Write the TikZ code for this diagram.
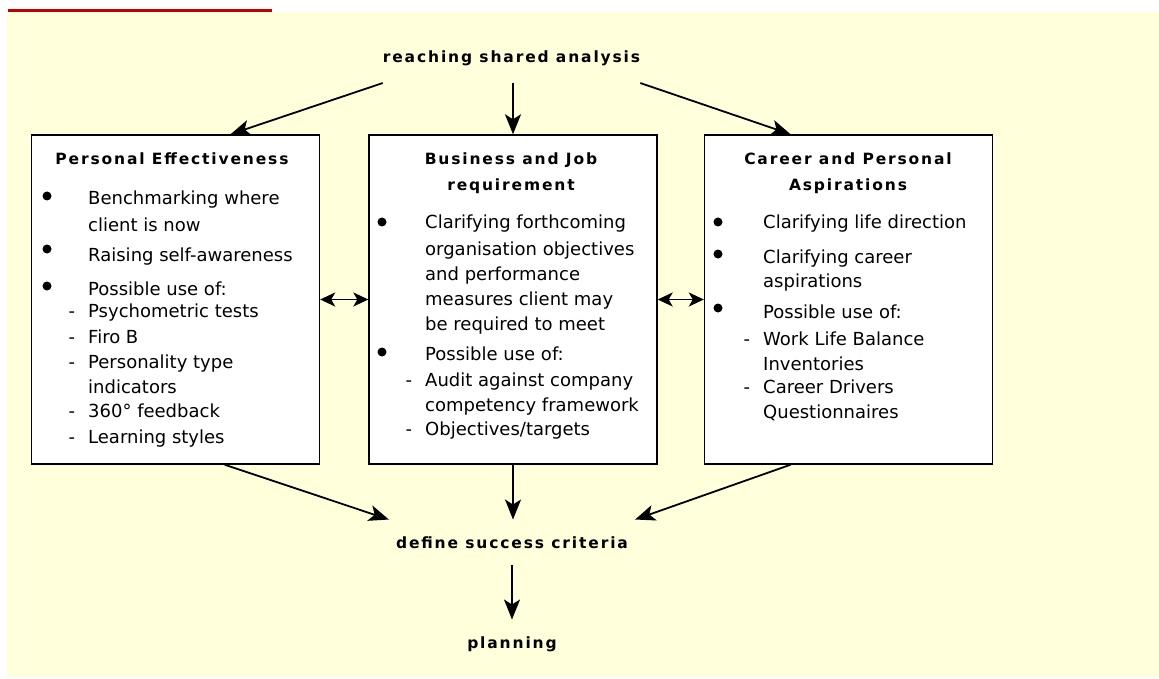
\documentclass[tikz,border=0pt]{standalone}
\usepackage{fontspec}
\setmainfont{DejaVu Sans}
\newfontfamily\headfont[LetterSpace=12]{DejaVu Sans}
\usetikzlibrary{arrows.meta,calc}
\definecolor{paper}{HTML}{FFFFDC}
\definecolor{topline}{HTML}{C00000}
\tikzset{
	box/.style={draw, fill=white, line width=1.4pt, minimum width=288pt, minimum height=329pt, inner sep=0pt},
	boxtitle/.style={font=\headfont\bfseries\fontsize{15.5}{26}\selectfont, align=center, anchor=north, inner sep=0pt},
	stagelabel/.style={font=\headfont\bfseries\fontsize{15.5}{26}\selectfont, anchor=base, inner xsep=0pt, inner ysep=16.5pt},
	body/.style={font=\fontsize{18}{25}\selectfont, anchor=base west, inner sep=0pt},
	flow/.style={line width=1.8pt, -{Stealth[length=20pt, width=16pt, inset=5pt]}},
	link/.style={line width=1.8pt, {Stealth[length=15pt, width=14pt, inset=4pt]}-{Stealth[length=15pt, width=14pt, inset=4pt]}},
}
\newcommand{\dash}{\llap{-\hspace{13pt}}}

\begin{document}
\begin{tikzpicture}[x=1pt, y=-1pt]
			\useasboundingbox (0,0) rectangle (1159,679);
			\fill[paper] (7,12) rectangle (1159,677);
			\draw[topline, line width=3pt] (8,10.5) -- (272,10.5);
			\node[box] (pe) at (175.5,299.5) {};
			\node[box] (bj) at (513,299.5) {};
			\node[box] (cp) at (848.5,299.5) {};
			\node[boxtitle] (pe-title) at (172,153) {Personal Effectiveness};
			\node[boxtitle] (bj-title) at (511,153) {Business and Job\\requirement};
			\node[boxtitle] (cp-title) at (848,153) {Career and Personal\\Aspirations};
			\foreach \y/\t in {205/Benchmarking where, 231/client is now, 261/Raising self-awareness,
				295/Possible use of:, 317/{\dash Psychometric tests}, 343/{\dash Firo B},
				368/{\dash Personality type}, 393/indicators, 417/{\dash 360° feedback}, 443/{\dash Learning styles}}
				\node[body] (pe-\y) at (88,\y) {\t};
			\foreach \y/\t in {229/Clarifying forthcoming, 255/organisation objectives, 280/and performance,
				305/measures client may, 330/be required to meet, 360/Possible use of:,
				386/{\dash Audit against company}, 411/competency framework, 435/{\dash Objectives/targets}}
				\node[body] (bj-\y) at (425,\y) {\t};
			\foreach \y/\t in {229/Clarifying life direction, 263/Clarifying career, 287/aspirations,
				318/Possible use of:, 345/{\dash Work Life Balance}, 370/Inventories,
				393/{\dash Career Drivers}, 418/Questionnaires}
				\node[body] (cp-\y) at (763,\y) {\t};
			\foreach \p in {(47,196), (47,249), (47,286), (382,222), (382,352), (718,222), (718,254), (718,308)}
				\fill \p circle (4.5pt);
			\node[stagelabel] (rsa) at (511.5,63) {reaching shared analysis};
			\node[stagelabel, inner xsep=7pt] (dsc) at (512,548) {define success criteria};
			\node[stagelabel] (plan) at (512,648) {planning};
			\draw[flow] (rsa.south west) -- ($(pe.north west)!0.69!(pe.north east)$);
			\draw[flow] (bj.north |- rsa.south) -- (bj.north);
			\draw[flow] (rsa.south east) -- ($(cp.north west)!0.3!(cp.north east)$);
			\draw[link] (pe.east) -- (bj.west);
			\draw[link] (bj.east) -- (cp.west);
			\draw[flow] ($(pe.south west)!0.67!(pe.south east)$) -- (dsc.north west);
			\draw[flow] (bj.south) -- (bj.south |- dsc.north);
			\draw[flow] ($(cp.south west)!0.3!(cp.south east)$) -- (dsc.north east);
			\draw[flow] (dsc.south) -- (plan.north);
		\end{tikzpicture}
\end{document}
